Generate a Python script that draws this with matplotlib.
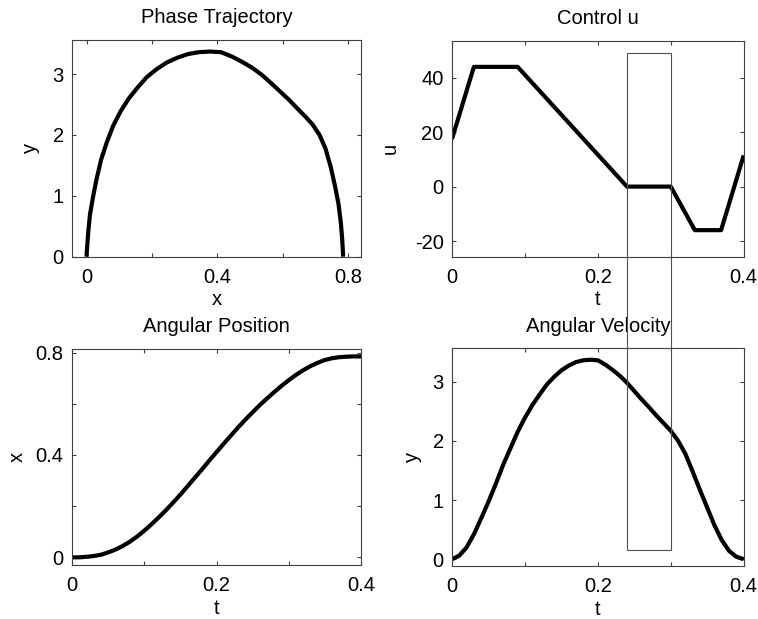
import matplotlib
matplotlib.use("Agg")
import matplotlib.pyplot as plt
import matplotlib.transforms as mtransforms
from matplotlib.patches import Rectangle

plt.rcParams['font.family'] = ['Liberation Sans', 'DejaVu Sans']
plt.rcParams['font.size'] = 14.5

# time samples and states
t = [0.00, 0.01, 0.02, 0.03, 0.04, 0.05, 0.06, 0.07, 0.08, 0.09,
     0.10, 0.11, 0.12, 0.13, 0.14, 0.15, 0.16, 0.17, 0.18, 0.19,
     0.20, 0.21, 0.22, 0.23, 0.24, 0.25, 0.26, 0.27, 0.28, 0.29,
     0.30, 0.31, 0.32, 0.33, 0.34, 0.35, 0.36, 0.37, 0.38, 0.39, 0.40]

# angular position x(t)
x_pos = [0.000, 0.000, 0.002, 0.005, 0.010, 0.019, 0.030, 0.044, 0.061, 0.081,
         0.104, 0.129, 0.156, 0.184, 0.214, 0.245, 0.278, 0.311, 0.344, 0.378,
         0.411, 0.444, 0.476, 0.508, 0.538, 0.567, 0.595, 0.621, 0.646, 0.670,
         0.692, 0.713, 0.731, 0.747, 0.760, 0.771, 0.778, 0.782, 0.784, 0.785, 0.785]

# angular velocity y(t)
y_vel = [0.00, 0.06, 0.20, 0.42, 0.69, 0.97, 1.27, 1.59, 1.87, 2.15,
         2.39, 2.60, 2.78, 2.95, 3.08, 3.19, 3.27, 3.33, 3.36, 3.37,
         3.36, 3.29, 3.20, 3.10, 2.98, 2.84, 2.70, 2.57, 2.43, 2.30,
         2.17, 2.00, 1.78, 1.48, 1.17, 0.87, 0.57, 0.32, 0.14, 0.04, 0.00]

# control u(t) breakpoints
t_ctrl = [0.0, 0.030, 0.090, 0.240, 0.300, 0.333, 0.369, 0.400]
u_ctrl = [17.5, 44.0, 44.0, 0.0, 0.0, -16.0, -16.0, 11.5]

# highlighted interval
t_box = [0.24, 0.30]

fig = plt.figure(figsize=(7.58, 6.19), dpi=100)
W, H = 758.0, 619.0


def make_axes(l, r, top, bot):
    return fig.add_axes([l / W, 1 - bot / H, (r - l) / W, (bot - top) / H])


ax_ph = make_axes(72, 361, 40, 256.7)
ax_u = make_axes(452, 743.7, 41, 256.7)
ax_x = make_axes(72, 361, 349, 565)
ax_y = make_axes(452, 743.7, 348.3, 565.7)

lw = 3.0
line_kw = dict(color='black', lw=lw, solid_joinstyle='round', solid_capstyle='butt')
ax_ph.plot(x_pos, y_vel, **line_kw)
ax_u.plot(t_ctrl, u_ctrl, **line_kw)
ax_x.plot(t, x_pos, **line_kw)
ax_y.plot(t, y_vel, **line_kw)

ax_ph.set_xlim(-0.045, 0.84)
ax_ph.set_ylim(0, 3.56)
ax_ph.set_xticks([0, 0.2, 0.4, 0.6, 0.8])
ax_ph.set_xticklabels(['0', '', '0.4', '', '0.8'])
ax_ph.set_yticks([0, 1, 2, 3])
ax_ph.set_yticklabels(['0', '1', '2', '3'])

ax_u.set_xlim(0, 0.4)
ax_u.set_ylim(-25.75, 53.5)
ax_u.set_yticks([-20, 0, 20, 40])
ax_u.set_yticklabels(['-20', '0', '20', '40'])

ax_x.set_xlim(0, 0.4)
ax_x.set_ylim(-0.03, 0.814)
ax_x.set_yticks([0, 0.2, 0.4, 0.6, 0.8])
ax_x.set_yticklabels(['0', '', '0.4', '', '0.8'])

ax_y.set_xlim(0, 0.4)
ax_y.set_ylim(-0.11, 3.563)
ax_y.set_yticks([0, 1, 2, 3])
ax_y.set_yticklabels(['0', '1', '2', '3'])

for ax in (ax_u, ax_x, ax_y):
    ax.set_xticks([0, 0.1, 0.2, 0.3, 0.4])
    ax.set_xticklabels(['0', '', '0.2', '', '0.4'])

titles = ['Phase Trajectory', 'Control u', 'Angular Position', 'Angular Velocity']
xlabels = ['x', 't', 't', 't']
ylabels = ['y', 'u', 'x', 'y']
xlab_pos = [-0.223, -0.223, -0.228, -0.226]
ylab_pos = [-0.125, -0.192, -0.169, -0.117]

for ax, ti, xl, yl, xp, yp in zip((ax_ph, ax_u, ax_x, ax_y), titles, xlabels,
                                  ylabels, xlab_pos, ylab_pos):
    ax.set_title(ti, fontsize=14.5, pad=12)
    ax.set_xlabel(xl, va='baseline')
    ax.set_ylabel(yl, va='baseline')
    ax.xaxis.set_label_coords(0.5, xp)
    ax.yaxis.set_label_coords(yp, 0.5)
    ax.tick_params(direction='in', length=3, width=0.8, color='#404040',
                   top=True, right=True, labelsize=14.5)
    ax.tick_params(axis='x', pad=8)
    ax.tick_params(axis='y', pad=6)
    for sp in ax.spines.values():
        sp.set_color('#404040')
        sp.set_linewidth(0.8)

# thin box marking the zero-control interval, spans both right panels
trans = mtransforms.blended_transform_factory(ax_u.transData, fig.transFigure)
y_bot = 1 - 550 / H
y_top = 1 - 52.5 / H
box = Rectangle((t_box[0], y_bot), t_box[1] - t_box[0], y_top - y_bot,
                transform=trans, fill=False, edgecolor='#505050', lw=0.8,
                clip_on=False, zorder=5)
fig.add_artist(box)

fig.savefig('out.png', dpi=100)
